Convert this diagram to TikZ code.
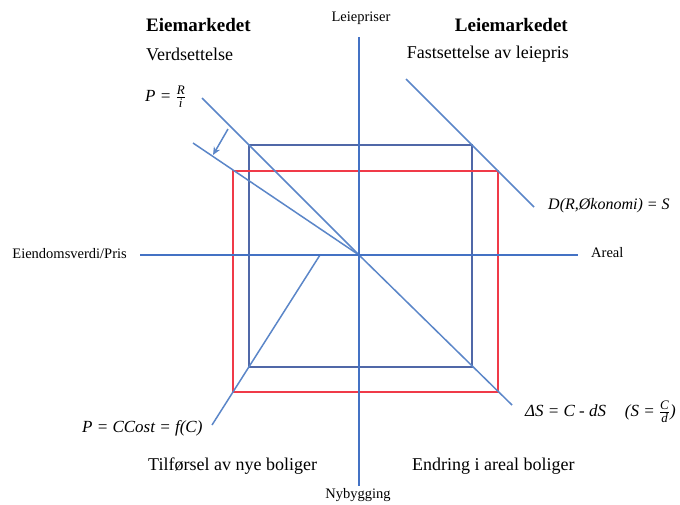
\documentclass[tikz,border=0pt]{standalone}
\usepackage{amsmath}
\usepackage{fontspec}
\setmainfont{Liberation Serif}
\usetikzlibrary{arrows.meta}
\definecolor{axisblue}{HTML}{4472C4}
\definecolor{lineblue}{HTML}{5B86C8}
\definecolor{rectblue}{HTML}{5068A8}
\definecolor{rectred}{HTML}{F03A48}
\newcommand{\smallfr}[2]{\ensuremath{\genfrac{}{}{0.6pt}{1}{\text{\fontsize{13}{13}\selectfont\itshape #1}}{\text{\fontsize{13}{13}\selectfont\itshape #2}}}}
\begin{document}
\begin{tikzpicture}[x=1pt,y=-1pt,
  axis/.style={draw=axisblue,line width=2.8pt},
  curveline/.style={draw=lineblue,line width=1.5pt},
  bluerect/.style={draw=rectblue,line width=1.6pt},
  redrect/.style={draw=rectred,line width=1.6pt},
  axlbl/.style={inner sep=0pt,font=\fontsize{14.5}{16}\selectfont},
  headlbl/.style={inner sep=0pt,font=\fontsize{19}{22}\selectfont\bfseries},
  sublbl/.style={inner sep=0pt,font=\fontsize{18}{21}\selectfont},
  eqlbl/.style={inner sep=0pt,font=\fontsize{17}{20}\selectfont\itshape}]
\useasboundingbox (0,0) rectangle (680,504);

% key points
\coordinate (O) at (359,255);
\coordinate (vtop) at (359,37);
\coordinate (vbot) at (359,486);
\coordinate (hleft) at (140,255);
\coordinate (hright) at (578,255);

\coordinate (bTL) at (249,145);
\coordinate (bBR) at (472,367);
\coordinate (rTL) at (233,171);
\coordinate (rBR) at (498,392);

\coordinate (l1a) at (202,98);
\coordinate (l1b) at (512,405);
\coordinate (l2a) at (193,143);
\coordinate (l3a) at (406,79);
\coordinate (l3b) at (534,207);
\coordinate (l4a) at (212,425);
\coordinate (l4b) at (320,255);
\coordinate (arra) at (228,129);
\coordinate (arrb) at (213,155);

% rectangles
\draw[bluerect] (bTL) rectangle (bBR);
\draw[redrect] (rTL) rectangle (rBR);

% curves
\draw[curveline] (l1a) -- (O) -- (l1b);
\draw[curveline] (l2a) -- (O);
\draw[curveline] (l3a) -- (l3b);
\draw[curveline] (l4a) -- (l4b);
\draw[curveline,-{Stealth[length=8pt,width=7pt]}] (arra) -- (arrb);

% axes
\draw[axis] (vtop) -- (vbot);
\draw[axis] (hleft) -- (hright);

% labels
\node[axlbl] (leiepriser) at (361,18) {Leiepriser};
\node[axlbl] (nybygging) at (358,495) {Nybygging};
\node[axlbl,anchor=east] (eiendom) at (127,254) {Eiendomsverdi/Pris};
\node[axlbl,anchor=west] (areal) at (591,253) {Areal};

\node[headlbl,anchor=west] (eie) at (146,25) {Eiemarkedet};
\node[sublbl,anchor=west] (verd) at (146,54) {Verdsettelse};
\node[headlbl,anchor=east] (leie) at (568,25) {Leiemarkedet};
\node[sublbl,anchor=east] (fast) at (569,54) {Fastsettelse av leiepris};

\node[eqlbl,anchor=west] (pri) at (145,97) {P = \smallfr{R}{i}};
\node[eqlbl,anchor=west,font=\fontsize{16}{19}\selectfont\itshape] (dem) at (548,206) {D(R,Økonomi) = S};
\node[eqlbl,anchor=west] (cost) at (82,428) {P = CCost = f(C)};
\node[eqlbl,anchor=west] (ds) at (525,412) {ΔS = C - dS\hspace{1.1em}(S = \smallfr{C}{d})};

\node[sublbl,anchor=west] (tilf) at (148,466) {Tilførsel av nye boliger};
\node[sublbl,anchor=west] (endr) at (412,466) {Endring i areal boliger};
\end{tikzpicture}
\end{document}
